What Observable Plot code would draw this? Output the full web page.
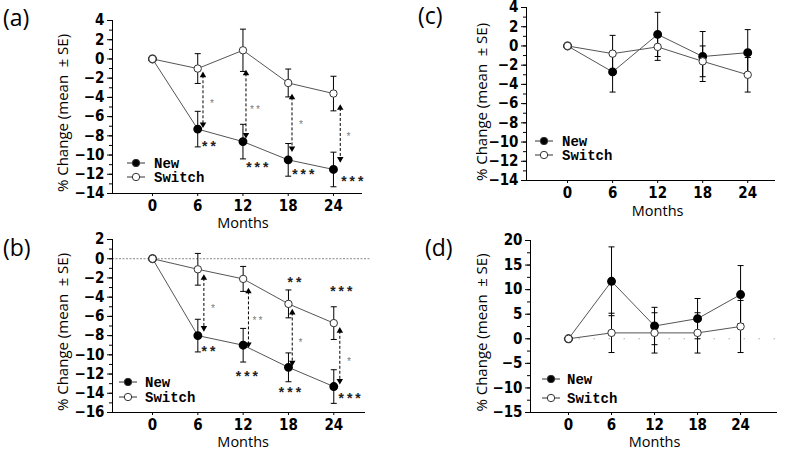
<!DOCTYPE html>
<html><head><meta charset="utf-8">
<script src="https://cdn.jsdelivr.net/npm/d3@7"></script>
<script src="https://cdn.jsdelivr.net/npm/@observablehq/plot@0.6"></script>
<style>
body{margin:0;background:#fff;}
#root{position:relative;width:790px;height:450px;overflow:hidden;background:#fff;}
.pl{position:absolute;}
.lab{position:absolute;font-family:"Open Sans","Noto Sans",sans-serif;font-size:23px;color:#000;line-height:1;}
</style></head><body><div id="root"></div>
<script>
// ---------- data ----------
const months = [0, 6, 12, 18, 24];
const seriesNames = ["New", "Switch"];

// panel (a)
const aNew = [0, -7.3, -8.6, -10.5, -11.5];
const aNewSE = [0, 1.85, 1.8, 1.7, 1.8];
const aSwitch = [0, -1.0, 0.9, -2.5, -3.6];
const aSwitchSE = [0, 1.55, 2.2, 1.45, 1.8];
const aArrows = [[6.7, -1.7, -6.8], [12.4, -1.5, -7.9], [18.5, -4.0, -9.3], [24.9, -5.1, -10.4]];
const aArrowStars = [[7.9, -4.4, "*"], [13.6, -5.0, "**"], [19.7, -6.5, "*"], [26.0, -7.8, "*"]];
const aStars = [[7.5, -8.8, "**"], [13.9, -11.0, "***"], [20.0, -11.7, "***"], [26.5, -12.4, "***"]];

// panel (b)
const bNew = [0, -8.0, -9.0, -11.3, -13.3];
const bNewSE = [0, 1.7, 1.75, 1.5, 1.75];
const bSwitch = [0, -1.1, -2.1, -4.7, -6.7];
const bSwitchSE = [0, 1.65, 1.3, 1.45, 1.7];
const bArrows = [[6.8, -2.0, -7.2], [12.7, -3.4, -8.9], [18.5, -5.6, -10.8], [24.8, -7.5, -12.7]];
const bArrowStars = [[8.0, -4.9, "*"], [13.9, -6.1, "**"], [19.6, -8.4, "*"], [26.0, -10.4, "*"]];
const bStars = [[7.4, -9.3, "**"], [12.5, -11.9, "***"], [18.2, -13.6, "***"], [26.1, -14.2, "***"], [18.8, -2.2, "**"], [25.0, -3.1, "***"]];

// panel (c)
const cNew = [0, -2.7, 1.2, -1.1, -0.7];
const cNewSE = [0, 2.1, 2.3, 2.6, 2.4];
const cSwitch = [0, -0.8, -0.1, -1.6, -3.0];
const cSwitchSE = [0, 1.9, 1.4, 1.6, 1.8];

// panel (d)
const dNew = [0, 11.7, 2.6, 4.1, 9.0];
const dNewSE = [0, 7.0, 3.8, 4.1, 5.9];
const dSwitch = [0, 1.2, 1.2, 1.2, 2.5];
const dSwitchSE = [0, 4.0, 4.1, 4.1, 5.3];

const ticksA = d3.range(-14, 5, 2), minorA = d3.range(-14, 5, 1);
const ticksB = d3.range(-16, 3, 2), minorB = d3.range(-16, 3, 1);
const ticksD = d3.range(-15, 21, 5), minorD = d3.range(-15, 21, 2.5);

const panelLabels = ["(a)", "(b)", "(c)", "(d)"];
const xTitle = "Months";
const yTitle = "% Change (mean\u2002\u00b1 SE)";

// ---------- drawing ----------
const TICK_FONT = '"Liberation Sans Narrow","DejaVu Sans Condensed","Arial Narrow",sans-serif';
const MONO = '"Liberation Mono","DejaVu Sans Mono",monospace';
const SANS = '"Open Sans","Noto Sans",sans-serif';
const root = document.getElementById("root");

function panel(p) {
  const plotW = p.W - p.mL - p.mR;
  const cw = 3 * (p.xDom[1] - p.xDom[0]) / plotW;
  const rowsN = months.map((m, i) => ({m, v: p.nv[i], se: p.ns[i]}));
  const rowsS = months.map((m, i) => ({m, v: p.sv[i], se: p.ss[i]}));
  const eb = [...rowsN, ...rowsS].filter(d => d.se > 0);
  const marks = [];
  if (p.zero) marks.push(Plot.ruleY([0], {x1: p.zero[0], x2: p.zero[1], stroke: "#888", strokeDasharray: p.zero[2], strokeWidth: 1}));
  marks.push(
    Plot.ruleX([p.xDom[0]], {stroke: "#000"}),
    Plot.ruleY([p.yDom[0]], {stroke: "#000"}),
    Plot.axisY(p.minor, {tickSize: 3, tickFormat: () => "", label: null}),
    Plot.axisY(p.major, {tickSize: 5, tickPadding: 3, label: null, fontSize: 15, fontWeight: "bold", fontFamily: TICK_FONT}),
    Plot.axisX(months, {tickSize: 3, tickPadding: 4, label: null, fontSize: 15, fontWeight: "bold", fontFamily: TICK_FONT}),
    Plot.link(eb, {x1: "m", x2: "m", y1: d => d.v - d.se, y2: d => d.v + d.se, stroke: "#000", strokeWidth: 1}),
    Plot.link(eb, {x1: d => d.m - cw, x2: d => d.m + cw, y1: d => d.v - d.se, y2: d => d.v - d.se, stroke: "#000"}),
    Plot.link(eb, {x1: d => d.m - cw, x2: d => d.m + cw, y1: d => d.v + d.se, y2: d => d.v + d.se, stroke: "#000"}),
    Plot.line(rowsN, {x: "m", y: "v", stroke: "#555", strokeWidth: 1}),
    Plot.line(rowsS, {x: "m", y: "v", stroke: "#555", strokeWidth: 1}),
    Plot.dot(rowsN, {x: "m", y: "v", r: 3.7, fill: "#000", stroke: "#000"}),
    Plot.dot(rowsS, {x: "m", y: "v", r: 3.7, fill: "#fff", stroke: "#333", strokeWidth: 1})
  );
  if (p.arrows) {
    marks.push(
      Plot.link(p.arrows, {x1: d => d[0], x2: d => d[0], y1: d => d[1], y2: d => d[2], stroke: "#000", strokeDasharray: "3,2"}),
      Plot.dot(p.arrows, {x: d => d[0], y: d => d[1], symbol: "triangle", r: 2.4, fill: "#000", stroke: null}),
      Plot.dot(p.arrows, {x: d => d[0], y: d => d[2], symbol: "triangle", r: 2.4, rotate: 180, fill: "#000", stroke: null}),
      Plot.text(p.arrowStars, {x: d => d[0], y: d => d[1], text: d => d[2], fontSize: 10, fill: "#808080", fontFamily: MONO, dy: 3}),
      Plot.text(p.stars, {x: d => d[0], y: d => d[1], text: d => d[2], fontSize: 14, fontWeight: "bold", fill: "#222", fontFamily: MONO, dy: 4})
    );
  }
  marks.push(
    Plot.text([xTitle], {x: 12, frameAnchor: "bottom", lineAnchor: "middle", dy: p.xtDy, fontSize: 14.5, fontFamily: SANS, fill: "#000"}),
    Plot.text([yTitle], {frameAnchor: "left", textAnchor: "middle", lineAnchor: "middle", rotate: -90, dx: p.ytDx, dy: p.ytDy, fontSize: 15, fontFamily: SANS, fill: "#000"})
  );
  const chart = Plot.plot({
    width: p.W, height: p.H,
    marginLeft: p.mL, marginRight: p.mR, marginTop: p.mT, marginBottom: p.mB,
    x: {domain: p.xDom}, y: {domain: p.yDom},
    style: {background: "transparent", overflow: "visible", color: "#000"},
    marks
  });
  chart.classList.add("pl");
  chart.style.left = p.left + "px";
  chart.style.top = p.top + "px";
  root.appendChild(chart);
}

panel({left: 0, top: 0, W: 395, H: 230, mL: 112, mR: 33, mT: 20, mB: 37,
  xDom: [-5.3, 27.85], yDom: [-14, 4], major: ticksA, minor: minorA,
  nv: aNew, ns: aNewSE, sv: aSwitch, ss: aSwitchSE,
  arrows: aArrows, arrowStars: aArrowStars, stars: aStars, xtDy: 30, ytDx: -49, ytDy: 6});

panel({left: 0, top: 225, W: 395, H: 225, mL: 112, mR: 30, mT: 14, mB: 38,
  xDom: [-5.3, 28.2], yDom: [-16, 2], major: ticksB, minor: minorB,
  nv: bNew, ns: bNewSE, sv: bSwitch, ss: bSwitchSE, zero: [-5.3, 28.9, "2,1.5"],
  arrows: bArrows, arrowStars: bArrowStars, stars: bStars, xtDy: 30, ytDx: -49, ytDy: 6});

panel({left: 400, top: 0, W: 390, H: 230, mL: 126, mR: 15, mT: 7, mB: 50,
  xDom: [-5.47, 27.7], yDom: [-14, 4], major: ticksA, minor: minorA,
  nv: cNew, ns: cNewSE, sv: cSwitch, ss: cSwitchSE, xtDy: 31, ytDx: -44, ytDy: 8});

panel({left: 400, top: 225, W: 390, H: 225, mL: 130, mR: 13, mT: 15, mB: 38,
  xDom: [-5.3, 29.15], yDom: [-15, 20], major: ticksD, minor: minorD,
  nv: dNew, ns: dNewSE, sv: dSwitch, ss: dSwitchSE, zero: [-0.6, 29.15, "1,14"],
  xtDy: 30, ytDx: -48, ytDy: 6});

// panel labels
const labPos = [[3, 6], [3, 236], [418, 4], [425, 236]];
panelLabels.forEach((t, i) => {
  const d = document.createElement("div");
  d.className = "lab"; d.textContent = t;
  d.style.left = labPos[i][0] + "px"; d.style.top = labPos[i][1] + "px";
  root.appendChild(d);
});

// legends
const legendPos = [[136, 163, 177, 154], [128, 382, 397, 145], [544, 141, 155, 562], [551, 379, 398, 567]];
const svg = d3.select(root).append("svg").attr("width", 790).attr("height", 450)
  .style("position", "absolute").style("left", 0).style("top", 0).style("pointer-events", "none");
legendPos.forEach(([x, y1, y2, tx]) => {
  [[y1, true], [y2, false]].forEach(([y, filled], k) => {
    svg.append("line").attr("x1", x - 9).attr("x2", x + 9).attr("y1", y).attr("y2", y).attr("stroke", "#333");
    svg.append("circle").attr("cx", x).attr("cy", y).attr("r", 3.7)
      .attr("fill", filled ? "#000" : "#fff").attr("stroke", "#333");
    svg.append("text").attr("x", tx).attr("y", y + 5).text(seriesNames[k])
      .attr("font-family", MONO).attr("font-weight", "bold").attr("font-size", 14).attr("fill", "#000");
  });
});
</script></body></html>
